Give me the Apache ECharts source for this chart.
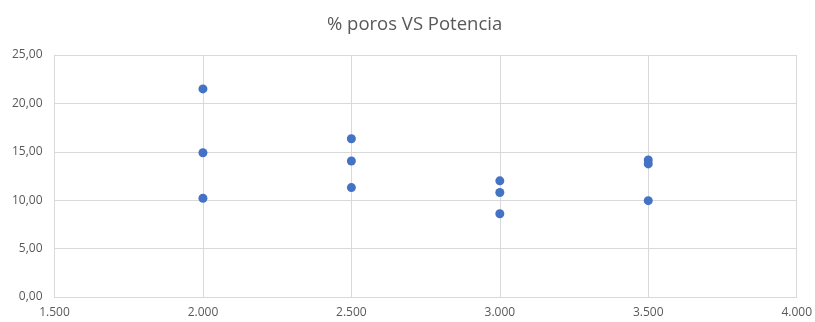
<!DOCTYPE html>
<html>
<head>
<meta charset="utf-8">
<script src="https://cdn.jsdelivr.net/npm/echarts@6/dist/echarts.min.js"></script>
<style>
  html, body { margin: 0; padding: 0; background: #fff; }
  #chart { width: 815px; height: 322px; }
</style>
</head>
<body>
<div id="chart"></div>
<script>
// Power (W) and porosity (%) measurements
const potencia = [2000, 2000, 2000, 2500, 2500, 2500, 3000, 3000, 3000, 3500, 3500, 3500];
const poros = [21.5, 14.9, 10.2, 16.35, 14.05, 11.3, 12.0, 10.8, 8.6, 14.15, 13.75, 9.95];

const xMin = 1500, xMax = 4000, xStep = 500;
const yMin = 0, yMax = 25, yStep = 5;

const gridColor = '#d9d9d9';
const textColor = '#595959';
const font = '"Open Sans", "Liberation Sans", sans-serif';

function fmtThousands(v) {
  return String(Math.round(v)).replace(/\B(?=(\d{3})+(?!\d))/g, '.');
}
function fmtDecimal(v) {
  return v.toFixed(2).replace('.', ',');
}

const chart = echarts.init(document.getElementById('chart'));
chart.setOption({
  animation: false,
  title: {
    text: '% poros VS Potencia',
    left: 322,
    top: 10,
    textStyle: { fontFamily: font, fontSize: 18.5, fontWeight: 'normal', color: textColor }
  },
  grid: { left: 54.5, right: 15, top: 55, bottom: 25 },
  xAxis: {
    type: 'value', min: xMin, max: xMax, interval: xStep,
    axisLine: { show: true, lineStyle: { color: gridColor } },
    axisTick: { show: false },
    splitLine: { show: true, lineStyle: { color: gridColor } },
    axisLabel: { color: textColor, fontFamily: font, fontSize: 12, margin: 10, formatter: fmtThousands }
  },
  yAxis: {
    type: 'value', min: yMin, max: yMax, interval: yStep,
    axisLine: { show: true, lineStyle: { color: gridColor } },
    axisTick: { show: false },
    splitLine: { show: true, lineStyle: { color: gridColor } },
    axisLabel: { color: textColor, fontFamily: font, fontSize: 12, margin: 12, formatter: fmtDecimal }
  },
  series: [{
    type: 'scatter',
    symbol: 'circle',
    symbolSize: 9,
    itemStyle: { color: '#4472c4', opacity: 1 },
    data: potencia.map((x, i) => [x, poros[i]])
  }]
});
</script>
</body>
</html>
